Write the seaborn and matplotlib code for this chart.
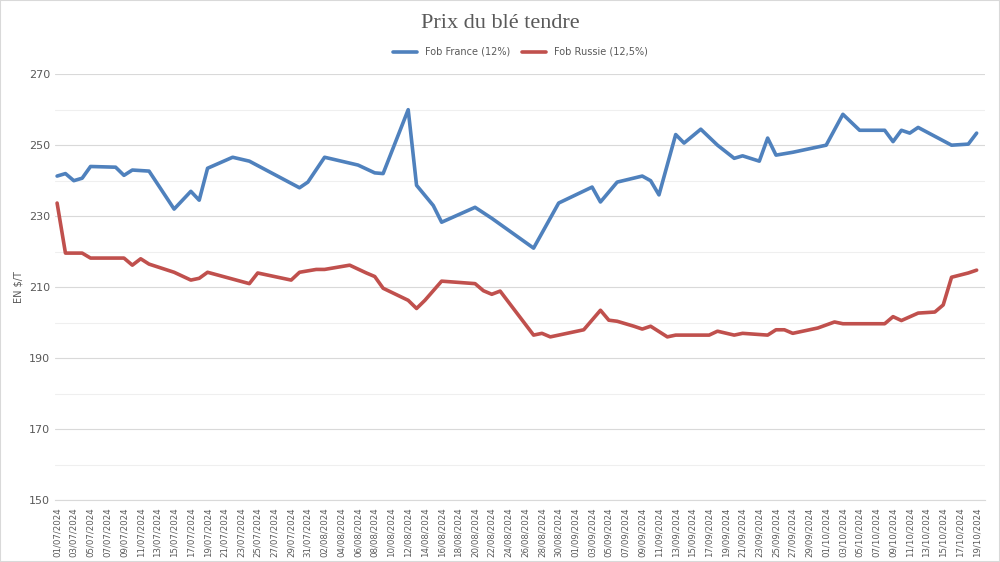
import pandas as pd
import matplotlib
matplotlib.use("Agg")
import matplotlib.pyplot as plt
import matplotlib.dates as mdates
import seaborn as sns

# --- data ---
france_dates = ["01/07", "02/07", "03/07", "04/07", "05/07", "08/07", "09/07", "10/07", "12/07",
                "15/07", "17/07", "18/07", "19/07", "22/07", "24/07", "30/07", "31/07", "02/08",
                "06/08", "08/08", "09/08", "12/08", "13/08", "15/08", "16/08", "20/08", "22/08",
                "27/08", "30/08", "03/09", "04/09", "06/09", "09/09", "10/09", "11/09", "13/09",
                "14/09", "16/09", "18/09", "20/09", "21/09", "23/09", "24/09", "25/09", "27/09",
                "01/10", "03/10", "05/10", "08/10", "09/10", "10/10", "11/10", "12/10", "16/10",
                "18/10", "19/10"]
france_values = [241.3, 242, 240, 240.7, 244, 243.8, 241.5, 243, 242.7,
                 232, 237, 234.5, 243.5, 246.6, 245.5, 238, 239.6, 246.6,
                 244.4, 242.2, 242, 260, 238.7, 233, 228.3, 232.5, 229.4,
                 221, 233.7, 238.2, 234, 239.6, 241.3, 240, 236, 253,
                 250.6, 254.5, 250, 246.3, 247, 245.5, 252, 247.2, 248,
                 250, 258.7, 254.2, 254.2, 251, 254.2, 253.4, 255, 250,
                 250.3, 253.4]

russie_dates = ["01/07", "02/07", "04/07", "05/07", "09/07", "10/07", "11/07", "12/07", "15/07",
                "17/07", "18/07", "19/07", "24/07", "25/07", "29/07", "30/07", "01/08", "02/08",
                "05/08", "07/08", "08/08", "09/08", "12/08", "13/08", "14/08", "16/08", "20/08",
                "21/08", "22/08", "23/08", "27/08", "28/08", "29/08", "31/08", "02/09", "04/09",
                "05/09", "06/09", "08/09", "09/09", "10/09", "12/09", "13/09", "17/09", "18/09",
                "20/09", "21/09", "24/09", "25/09", "26/09", "27/09", "30/09", "02/10", "03/10",
                "08/10", "09/10", "10/10", "12/10", "14/10", "15/10", "16/10", "18/10", "19/10"]
russie_values = [233.7, 219.6, 219.6, 218.2, 218.2, 216.2, 218, 216.5, 214.2,
                 212, 212.5, 214.2, 211, 214, 212, 214.2, 215, 215,
                 216.2, 214, 213, 209.7, 206.3, 204, 206.3, 211.7, 211,
                 209, 208, 208.9, 196.5, 197, 196, 197, 198, 203.5,
                 200.7, 200.4, 199, 198.2, 199, 196, 196.5, 196.5, 197.6,
                 196.5, 197, 196.5, 198, 198, 197, 198.5, 200.2, 199.7,
                 199.7, 201.7, 200.6, 202.7, 203, 205, 212.8, 214, 214.8]

to_dt = lambda d: pd.to_datetime([x + "/2024" for x in d], format="%d/%m/%Y")
df = pd.concat([
    pd.DataFrame({"date": to_dt(france_dates), "prix": france_values, "serie": "Fob France (12%)"}),
    pd.DataFrame({"date": to_dt(russie_dates), "prix": russie_values, "serie": "Fob Russie (12,5%)"}),
])

sns.set_style("white")
fig = plt.figure(figsize=(10, 5.62), dpi=100)
ax = fig.add_axes([0.055, 0.11, 0.93, 0.758])

sns.lineplot(data=df, x="date", y="prix", hue="serie",
             palette=["#4f81bd", "#c0504d"], linewidth=2.6, ax=ax)

ax.set_ylim(150, 270)
ax.set_yticks(range(150, 271, 20))
ax.set_yticks(range(160, 271, 20), minor=True)
ax.grid(True, which="major", axis="y", color="#d9d9d9", linewidth=0.8)
ax.grid(True, which="minor", axis="y", color="#efefef", linewidth=0.8)
ax.set_axisbelow(True)

ax.set_xlim(pd.Timestamp("2024-06-30 18:00"), pd.Timestamp("2024-10-20 00:00"))
ax.xaxis.set_major_locator(mdates.DayLocator(interval=2))
ax.xaxis.set_major_formatter(mdates.DateFormatter("%d/%m/%Y"))
ax.tick_params(axis="x", rotation=90, labelsize=6.2, colors="#595959", length=3, pad=2)
ax.tick_params(axis="y", labelsize=8, colors="#595959", length=0)
ax.tick_params(axis="y", which="minor", length=0)
for s in ["top", "right", "left"]:
    ax.spines[s].set_visible(False)
ax.spines["bottom"].set_color("#d9d9d9")

ax.set_xlabel("")
ax.set_ylabel("EN $/T", fontsize=7, color="#595959")

ax.legend(loc="lower center", bbox_to_anchor=(0.5, 1.02), ncol=2, frameon=False,
          fontsize=7, labelcolor="#595959", handlelength=2.5, columnspacing=1.2)
fig.suptitle("Prix du blé tendre", y=0.975, fontsize=16, color="#595959",
             family="Liberation Serif")

fig.patches.append(plt.Rectangle((0, 0), 1, 1, transform=fig.transFigure,
                                 fill=False, edgecolor="#d9d9d9", linewidth=1.5))
fig.savefig("out.png", dpi=100)
